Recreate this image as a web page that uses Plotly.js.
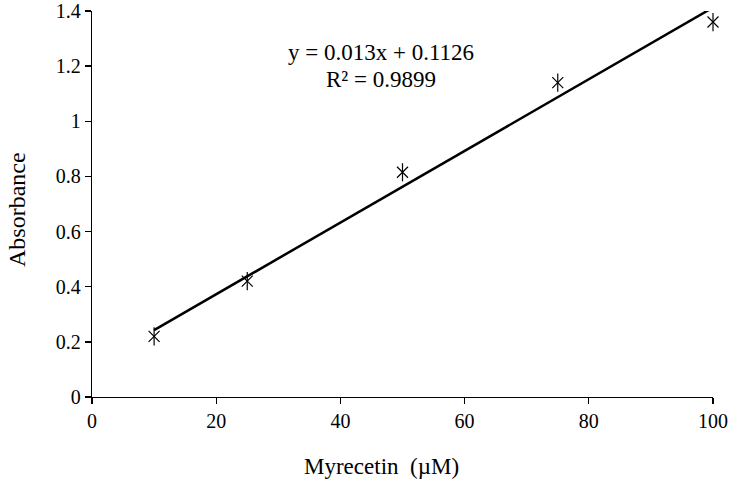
<!DOCTYPE html>
<html>
<head>
<meta charset="utf-8">
<script src="https://cdn.plot.ly/plotly-3.0.1.min.js"></script>
<style>html,body{margin:0;padding:0;background:#fff;}#chart{width:729px;height:487px;}</style>
</head>
<body>
<div id="chart"></div>
<script>
// Data
const concentration = [10, 25, 50, 75, 100];          // Myrecetin (µM)
const absorbance = [0.22, 0.42, 0.815, 1.14, 1.36];   // Absorbance
const fitSlope = 0.013;
const fitIntercept = 0.1126;
const equationText = "y = 0.013x + 0.1126";
const r2Text = "R² = 0.9899";
const xTitle = "Myrecetin  (µM)";
const yTitle = "Absorbance";
const xTicks = [0, 20, 40, 60, 80, 100];
const yTicks = [0, 0.2, 0.4, 0.6, 0.8, 1, 1.2, 1.4];

const fitX = [concentration[0], concentration[concentration.length - 1]];
const fitY = fitX.map(x => fitSlope * x + fitIntercept);

const FONT = "Liberation Serif";
const PW = 621, PH = 386, PL = 92, PB = 397;
const px = v => (v - PL) / PW;
const py = v => (PB - v) / PH;

const traces = [
  {x: fitX, y: fitY, mode: 'lines', line: {color: '#000', width: 2.5}, hoverinfo: 'skip'},
  {x: concentration, y: absorbance, mode: 'markers', cliponaxis: false,
   marker: {symbol: 'x-thin-open', size: 11, color: '#000', line: {color: '#000', width: 1.2}}},
  {x: concentration, y: absorbance, mode: 'markers', cliponaxis: false,
   marker: {symbol: 'line-ns-open', size: 13, color: '#000', line: {color: '#000', width: 1.2}}}
];

const layout = {
  width: 729, height: 487,
  margin: {l: 92, r: 16, t: 11, b: 90},
  paper_bgcolor: '#fff', plot_bgcolor: '#fff',
  showlegend: false,
  font: {family: FONT, color: '#000', size: 20},
  xaxis: {
    range: [0, 100], tickvals: xTicks, ticktext: xTicks.map(String),
    showgrid: false, zeroline: false, showline: true, linecolor: '#000', linewidth: 1.3,
    ticks: 'outside', ticklen: 6, tickwidth: 1.3, tickcolor: '#000',
    ticklabeloverflow: 'allow',
    tickfont: {family: FONT, size: 20, color: '#000'}
  },
  yaxis: {
    range: [0, 1.4], tickvals: yTicks, ticktext: yTicks.map(String),
    showgrid: false, zeroline: false, showline: true, linecolor: '#000', linewidth: 1.3,
    ticks: 'outside', ticklen: 6, tickwidth: 1.3, tickcolor: '#000',
    ticklabeloverflow: 'allow',
    tickfont: {family: FONT, size: 20, color: '#000'}
  },
  annotations: [
    {text: equationText, xref: 'paper', yref: 'paper', x: px(381), y: py(52),
     xanchor: 'center', yanchor: 'middle', showarrow: false, font: {family: FONT, size: 23, color: '#000'}},
    {text: r2Text, xref: 'paper', yref: 'paper', x: px(381), y: py(80),
     xanchor: 'center', yanchor: 'middle', showarrow: false, font: {family: FONT, size: 23, color: '#000'}},
    {text: xTitle, xref: 'paper', yref: 'paper', x: px(381), y: py(466),
     xanchor: 'center', yanchor: 'middle', showarrow: false, font: {family: FONT, size: 23, color: '#000'}},
    {text: yTitle, xref: 'paper', yref: 'paper', x: px(17), y: py(210), textangle: -90,
     xanchor: 'center', yanchor: 'middle', showarrow: false, font: {family: FONT, size: 24, color: '#000'}}
  ]
};

Plotly.newPlot('chart', traces, layout, {displayModeBar: false, staticPlot: true});
</script>
</body>
</html>
